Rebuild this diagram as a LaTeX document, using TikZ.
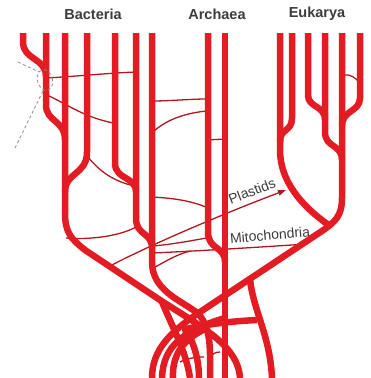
\documentclass[tikz,border=0pt]{standalone}
\usepackage{fontspec}
\setmainfont{Liberation Sans}
\usetikzlibrary{arrows.meta}
\definecolor{treered}{HTML}{E31B23}
\definecolor{linkred}{HTML}{B3161D}
\definecolor{labelgray}{HTML}{3C3C3C}
\definecolor{dashgray}{HTML}{8C8C8C}
\begin{document}
\begin{tikzpicture}[x=1pt,y=-1pt,
  trunk/.style={draw=treered, line width=6.5pt, line cap=butt, line join=round},
  link/.style={draw=linkred, line width=1.3pt},
  arrowlink/.style={link, -{Triangle[length=8pt,width=5.5pt]}},
  head/.style={font=\bfseries\fontsize{14.5}{16}\selectfont, text=labelgray, inner sep=0pt},
  tag/.style={font=\fontsize{14}{16}\selectfont, text=labelgray, inner sep=0pt},
  guide/.style={draw=dashgray, line width=0.8pt, dash pattern=on 3pt off 2.5pt}]
\useasboundingbox (0,0) rectangle (370,378);
% labels
\node[head] (bac) at (93,14) {Bacteria};
\node[head] (arc) at (217,14) {Archaea};
\node[head] (euk) at (317,14) {Eukarya};
\node[tag, rotate=21] (pla) at (252,191) {Plastids};
\node[tag, rotate=5] (mit) at (270,235) {Mitochondria};
\coordinate (platip) at (286,190);
\coordinate (mittip) at (308,244);
% thin lateral links
\draw[link] (47,78) .. controls (80,76) and (110,73) .. (136,72);
\draw[link] (47,95) .. controls (65,103) and (85,118) .. (114,123);
\draw[link] (152,101) .. controls (170,101) and (190,99) .. (207,99);
\draw[link] (152,133) .. controls (165,120) and (185,113) .. (207,111);
\draw[link] (207,140) -- (225,139);
\draw[link] (343,75) .. controls (350,74) and (356,77) .. (360,84);
\draw[link] (88,157) .. controls (100,172) and (115,182) .. (135,186);
\draw[link] (152,197) .. controls (170,198) and (190,200) .. (208,208);
\draw[link] (66,238) .. controls (90,240) and (120,236) .. (136,227);
\draw[link] (153,268) .. controls (165,262) and (175,255) .. (190,251);
\draw[link] (153,246) .. controls (175,244) and (195,240) .. (212,237);
\draw[link] (180,362) .. controls (188,358) and (196,357) .. (204,357);
\draw[link] (209,361) .. controls (211,354) and (215,352) .. (220,352);
\draw[arrowlink] (110,266) .. controls (150,245) and (220,215) .. (platip);
\draw[arrowlink] (152,253) .. controls (200,251) and (260,247) .. (mittip);
% Bacteria
\draw[trunk] (23,33) -- (23,42) .. controls (23,60) and (46,58) .. (46,76);
\draw[trunk] (46,33) -- (46,105) .. controls (46,122) and (65,120) .. (65,140);
\draw[trunk] (65,33) -- (65,212) .. controls (65,232) and (70,238) .. (85,250) -- (160,300) .. controls (200,326) and (238,345) .. (240,378);
\draw[trunk] (87,33) -- (87,152) .. controls (87,175) and (65,172) .. (65,192);
\draw[trunk] (115,33) -- (115,163) .. controls (115,180) and (136,176) .. (136,192);
\draw[trunk] (136,33) -- (136,218) .. controls (136,236) and (152,232) .. (152,248);
\draw[trunk] (152,33) -- (152,262) .. controls (152,290) and (180,300) .. (196,312) .. controls (212,325) and (210,350) .. (210,378);
% Archaea
\draw[trunk] (208,33) -- (208,232) .. controls (208,250) and (225,246) .. (225,262);
\draw[trunk] (225,33) -- (225,378);
% Eukarya
\draw[trunk] (280,33) -- (280,150) .. controls (280,180) and (300,205) .. (330,226);
\draw[trunk] (292,33) -- (292,118) .. controls (292,132) and (280,128) .. (280,142);
\draw[trunk] (308,33) -- (308,95) .. controls (308,108) and (325,105) .. (325,120);
\draw[trunk] (325,33) -- (325,132) .. controls (325,148) and (342,144) .. (342,160);
\draw[trunk] (342,33) -- (342,198) .. controls (342,216) and (335,222) .. (322,231) -- (200,312) .. controls (170,332) and (152,350) .. (152,378);
\draw[trunk] (360,33) -- (360,98) .. controls (360,112) and (342,110) .. (342,126);
% root tangle
\draw[trunk] (250,279) .. controls (253,310) and (270,335) .. (272,378);
\draw[trunk] (182,330) .. controls (205,324) and (235,321) .. (257,320);
\draw[trunk] (162,378) .. controls (163,345) and (185,330) .. (225,318);
\draw[trunk] (190,378) .. controls (186,352) and (176,335) .. (162,302);
\draw[trunk] (173,378) .. controls (172,356) and (182,340) .. (205,329);
\draw[trunk] (199,378) .. controls (199,356) and (192,340) .. (186,330);
% dashed guide
\draw[guide, rotate around={15:(45,80)}] (45,80) ellipse [x radius=7.5, y radius=10.5];
\draw[guide] (18,62) -- (39,72);
\draw[guide] (43,91) -- (15,148);
\end{tikzpicture}
\end{document}
